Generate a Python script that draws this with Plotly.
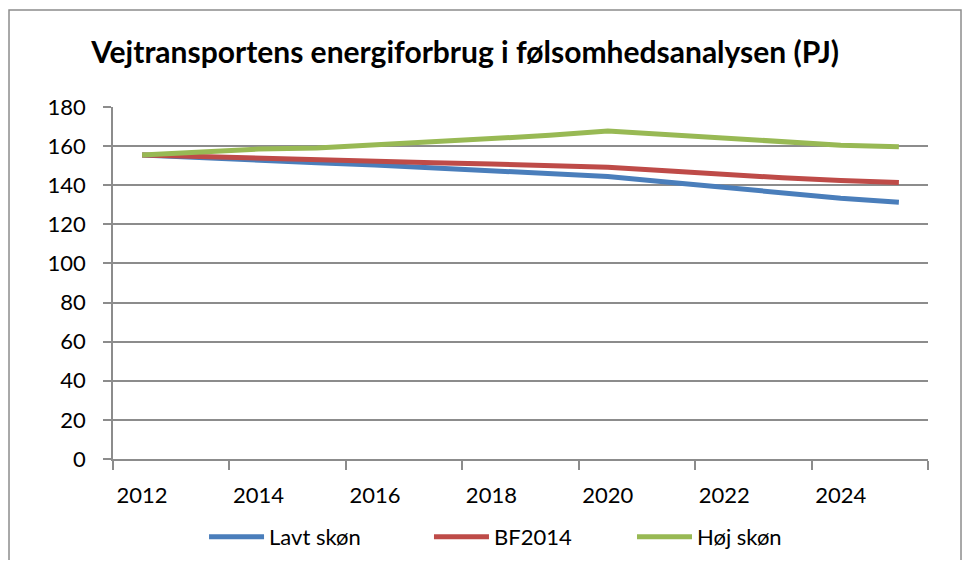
import plotly.graph_objects as go

# Data (PJ)
years = list(range(2012, 2026))
lavt_skon = [155.5, 154.0, 152.6, 151.5, 150.3, 149.0, 147.6, 146.1, 144.5, 141.7, 139.0, 136.3, 133.3, 131.3]
bf2014 = [155.5, 154.6, 153.7, 152.9, 152.2, 151.5, 150.8, 150.0, 149.2, 147.4, 145.5, 143.8, 142.4, 141.4]
hoj_skon = [155.5, 157.0, 158.5, 159.0, 160.5, 162.0, 163.5, 165.5, 167.7, 166.0, 164.0, 162.0, 160.5, 159.7]

series_names = ["Lavt skøn", "BF2014", "Høj skøn"]
series_colors = ["#4A7EBB", "#BE4B48", "#98B954"]
label_years = [2012, 2014, 2016, 2018, 2020, 2022, 2024]
y_ticks = list(range(0, 181, 20))

font_family = "Lato, 'Liberation Sans', sans-serif"
grid_color = "#8c8c8c"

# one legend per series so each entry can sit where Excel put it
legend_ids = ["legend", "legend2", "legend3"]
legend_x = [0.1117, 0.3877, 0.6368]

fig = go.Figure()
for name, values, color, lid in zip(series_names, [lavt_skon, bf2014, hoj_skon], series_colors, legend_ids):
    fig.add_trace(
        go.Scatter(
            x=years,
            y=values,
            mode="lines",
            name=name,
            legend=lid,
            line=dict(color=color, width=5),
        )
    )

# tick marks sit between every second category, labels on the category
boundaries = [y - 0.5 for y in years[::2]] + [years[-1] + 0.5]

fig.update_xaxes(
    range=[years[0] - 0.5, years[-1] + 0.5],
    tickvals=label_years,
    ticktext=[str(y) for y in label_years],
    ticks="",
    showgrid=False,
    showline=True,
    linecolor=grid_color,
    linewidth=1.5,
    tickfont=dict(family=font_family, size=22, color="black"),
    ticklabelstandoff=16,
    minor=dict(tickvals=boundaries, ticks="outside", ticklen=9, tickcolor=grid_color, tickwidth=1.5, showgrid=False),
    zeroline=False,
    fixedrange=True,
)
fig.update_yaxes(
    range=[0, 180],
    tickvals=y_ticks,
    ticks="outside",
    ticklen=8,
    tickcolor=grid_color,
    tickwidth=1.5,
    showgrid=True,
    gridcolor=grid_color,
    gridwidth=1.5,
    showline=True,
    linecolor=grid_color,
    linewidth=1.5,
    zeroline=False,
    tickfont=dict(family=font_family, size=22, color="black"),
    ticklabelstandoff=13,
)

fig.add_shape(
    type="rect",
    xref="paper",
    yref="paper",
    x0=-0.1276,
    x1=1.0405,
    y0=-0.45,
    y1=1.2756,
    line=dict(color=grid_color, width=1.5),
    layer="below",
)

legend_style = dict(
    orientation="h",
    xanchor="left",
    y=-0.2216,
    yanchor="middle",
    font=dict(family=font_family, size=22, color="black"),
    itemwidth=55,
    bgcolor="rgba(0,0,0,0)",
)

# page has an 8px body margin, so the figure is a bit smaller than the window
fig.update_layout(
    width=957,
    height=552,
    margin=dict(l=105, r=37, t=99, b=101, autoexpand=False),
    paper_bgcolor="white",
    plot_bgcolor="white",
    title=dict(
        text="<b>Vejtransportens energiforbrug i følsomhedsanalysen (PJ)</b>",
        font=dict(family=font_family, size=30, color="black"),
        x=0.432,
        xref="paper",
        xanchor="center",
        y=1 - 44 / 552,
        yref="container",
        yanchor="middle",
    ),
    showlegend=True,
    legend=dict(x=legend_x[0], **legend_style),
    legend2=dict(x=legend_x[1], **legend_style),
    legend3=dict(x=legend_x[2], **legend_style),
)

fig.write_html("out.html")
